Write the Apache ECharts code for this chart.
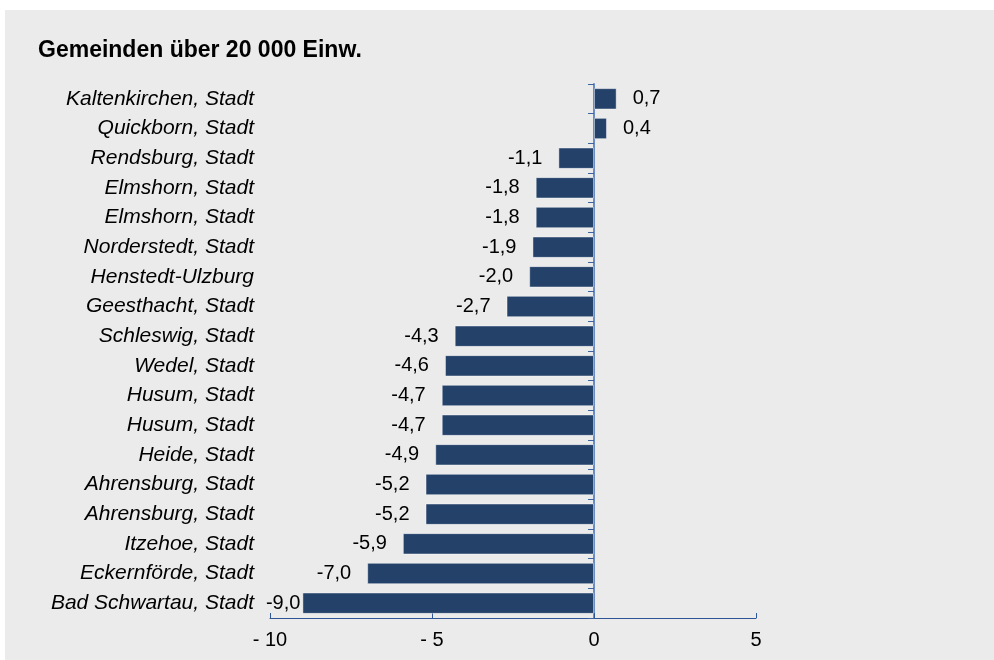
<!DOCTYPE html>
<html>
<head>
<meta charset="utf-8">
<script src="https://cdn.jsdelivr.net/npm/echarts@6/dist/echarts.min.js"></script>
<style>
  html, body { margin: 0; padding: 0; background: #ffffff; }
  #chart { position: absolute; left: 5px; top: 10px; width: 989px; height: 650px; }
</style>
</head>
<body>
<div id="chart"></div>
<script>
// Gemeinden, von oben nach unten wie im Bild
var gemeinden = [
  'Kaltenkirchen, Stadt', 'Quickborn, Stadt', 'Rendsburg, Stadt', 'Elmshorn, Stadt',
  'Elmshorn, Stadt', 'Norderstedt, Stadt', 'Henstedt-Ulzburg', 'Geesthacht, Stadt',
  'Schleswig, Stadt', 'Wedel, Stadt', 'Husum, Stadt', 'Husum, Stadt',
  'Heide, Stadt', 'Ahrensburg, Stadt', 'Ahrensburg, Stadt', 'Itzehoe, Stadt',
  'Eckernförde, Stadt', 'Bad Schwartau, Stadt'
];
var werte = [0.7, 0.4, -1.1, -1.8, -1.8, -1.9, -2.0, -2.7, -4.3, -4.6, -4.7, -4.7, -4.9, -5.2, -5.2, -5.9, -7.0, -9.0];

var schrift = 'Liberation Sans, Arial, sans-serif';

var chart = echarts.init(document.getElementById('chart'));

function fmt(v) {
  return v.toFixed(1).replace('.', ',');
}

// Werte rechts bei positiven, links bei negativen Balken
var barData = werte.map(function (v) {
  var item = { value: v, label: { position: v < 0 ? 'left' : 'right' } };
  if (v <= -8.5) {
    // label sitzt direkt am Balken, sonst stößt es an den Namen
    item.label.distance = 2;
  }
  return item;
});

var option = {
  backgroundColor: '#ebebeb',
  animation: false,
  title: {
    text: 'Gemeinden über 20 000 Einw.',
    left: 28,
    top: 24,
    textStyle: {
      fontFamily: schrift,
      fontWeight: 'bold',
      fontSize: 23,
      color: '#000'
    }
  },
  grid: {
    left: 265,
    right: 238,
    top: 74,
    bottom: 42
  },
  xAxis: {
    type: 'value',
    min: -10,
    max: 5,
    interval: 5,
    axisLine: { show: true, lineStyle: { color: '#2f5597', width: 1 } },
    axisTick: { show: true, inside: true, length: 5, lineStyle: { color: '#2f5597' } },
    splitLine: { show: false },
    axisLabel: {
      margin: 12,
      fontFamily: schrift,
      fontSize: 20,
      color: '#000',
      formatter: function (v) {
        return v < 0 ? '- ' + Math.abs(v) : String(v);
      }
    }
  },
  yAxis: [
    {
      type: 'category',
      inverse: true,
      data: gemeinden,
      axisLine: { show: false, onZero: false },
      axisTick: { show: false },
      axisLabel: {
        margin: 16,
        fontFamily: schrift,
        fontStyle: 'italic',
        fontSize: 21,
        color: '#000'
      }
    },
    {
      // Achse auf der Null mit Strichen zwischen den Balken
      type: 'category',
      inverse: true,
      position: 'left',
      data: gemeinden,
      axisLine: { show: true, onZero: true, lineStyle: { color: '#6a8cc0', width: 2 } },
      axisTick: { show: true, length: 6, lineStyle: { color: '#3b64a0' } },
      axisLabel: { show: false }
    }
  ],
  series: [{
    type: 'bar',
    yAxisIndex: 0,
    data: barData,
    barCategoryGap: '28%',
    itemStyle: {
      color: '#234169',
      borderColor: 'rgba(255,255,255,0.45)',
      borderWidth: 1
    },
    label: {
      show: true,
      distance: 16,
      fontFamily: schrift,
      fontSize: 20,
      color: '#000',
      formatter: function (p) { return fmt(p.value); }
    }
  }]
};

chart.setOption(option);
</script>
</body>
</html>
